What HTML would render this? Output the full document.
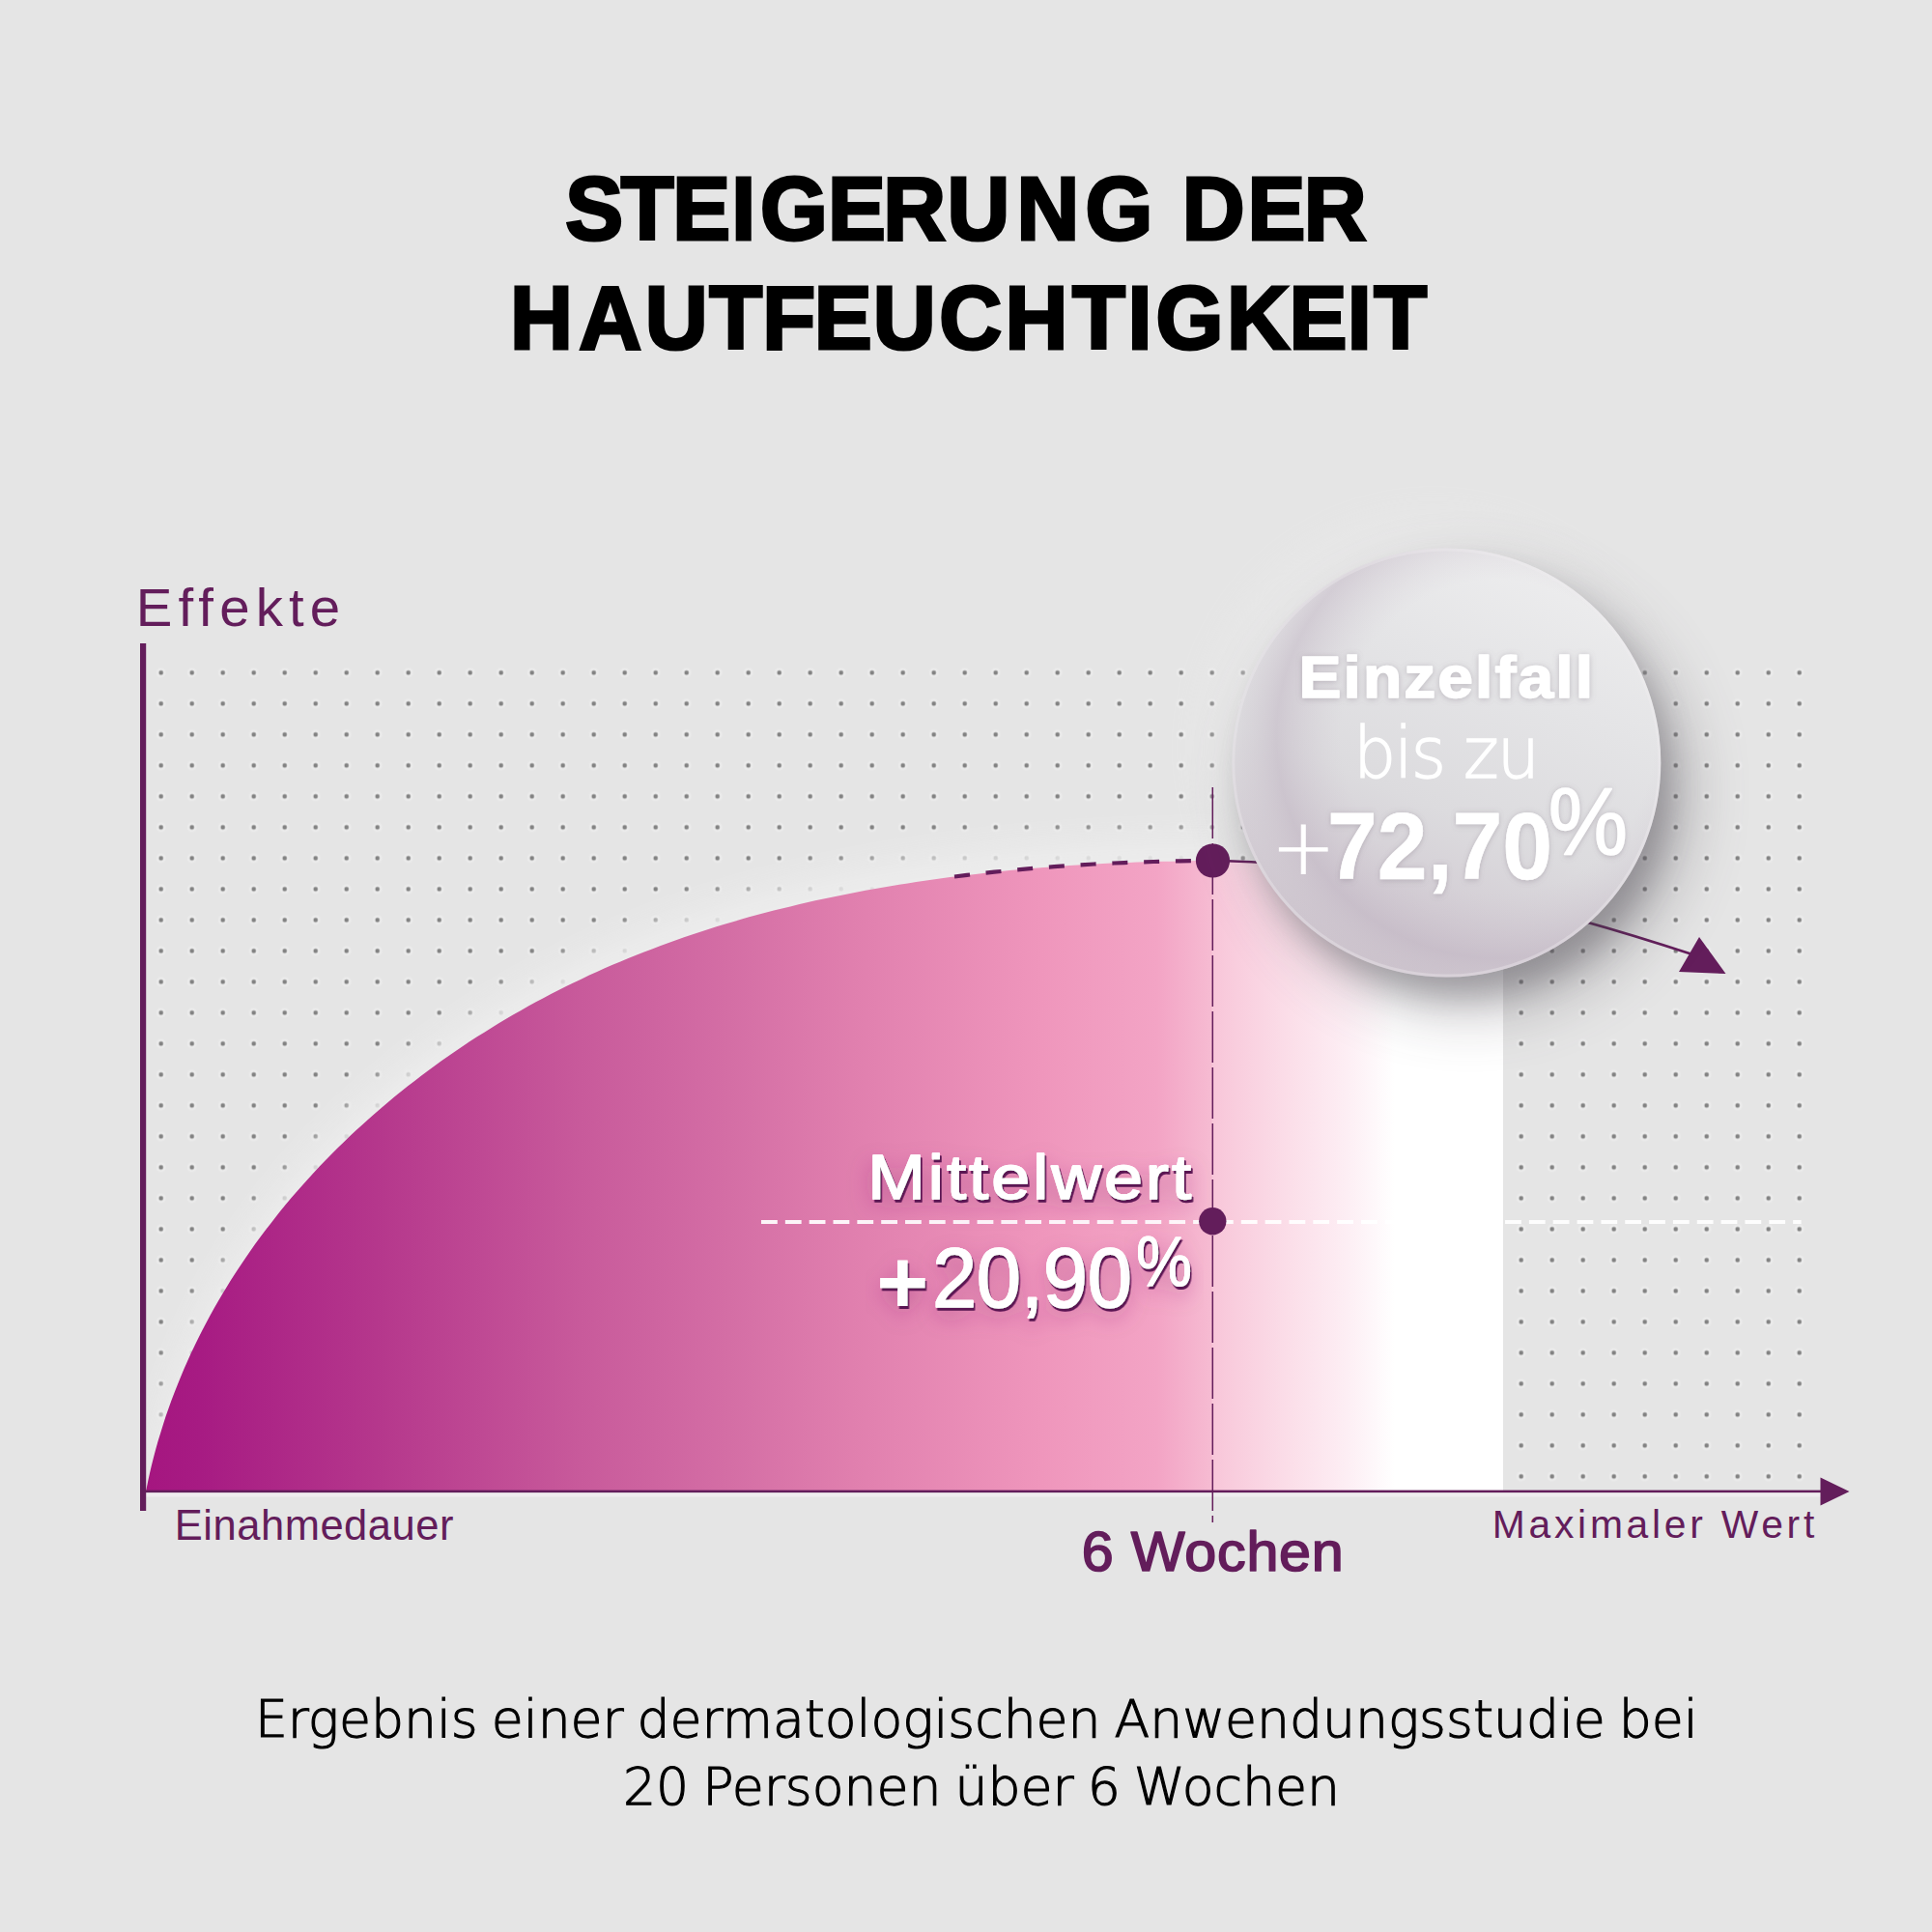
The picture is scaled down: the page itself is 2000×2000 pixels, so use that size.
<!DOCTYPE html>
<html lang="de"><head><meta charset="utf-8"><title>Steigerung der Hautfeuchtigkeit</title>
<style>
html,body{margin:0;padding:0;background:#e5e5e5;width:2000px;height:2000px;overflow:hidden;}
svg{display:block}
text{white-space:pre}
</style></head><body>
<svg width="2000" height="2000" viewBox="0 0 2000 2000">
<defs>
<pattern id="dots" x="150.7" y="680.4" width="32" height="32" patternUnits="userSpaceOnUse">
<circle cx="16" cy="16" r="5" fill="#ebebeb"/>
<rect x="13.85" y="13.85" width="4.3" height="4.3" rx="1.6" fill="#828282"/>
</pattern>
<linearGradient id="fillg" gradientUnits="userSpaceOnUse" x1="151" y1="0" x2="1556" y2="0">
<stop offset="0" stop-color="#a51680"/>
<stop offset="0.04" stop-color="#a71b83"/>
<stop offset="0.17" stop-color="#b5378c"/>
<stop offset="0.32" stop-color="#c85a9b"/>
<stop offset="0.43" stop-color="#d46ea5"/>
<stop offset="0.52" stop-color="#e07fae"/>
<stop offset="0.66" stop-color="#ef96bc"/>
<stop offset="0.745" stop-color="#f3a4c5"/>
<stop offset="0.785" stop-color="#f6bbd2"/>
<stop offset="0.786" stop-color="#f8c6d9"/>
<stop offset="0.84" stop-color="#fbdde8"/>
<stop offset="0.885" stop-color="#fdeef4"/>
<stop offset="0.92" stop-color="#ffffff"/>
<stop offset="1" stop-color="#ffffff"/>
</linearGradient>
<linearGradient id="circg" x1="0.72" y1="0.02" x2="0.32" y2="1">
<stop offset="0" stop-color="#ededee"/>
<stop offset="0.3" stop-color="#e4e4e6"/>
<stop offset="0.6" stop-color="#dcdbde"/>
<stop offset="0.85" stop-color="#d1cad2"/>
<stop offset="1" stop-color="#cbc1cb"/>
</linearGradient>
<radialGradient id="circin" cx="0.62" cy="0.44" r="0.63">
<stop offset="0" stop-color="#d8d4da" stop-opacity="0"/>
<stop offset="0.58" stop-color="#cfc6d0" stop-opacity="0"/>
<stop offset="0.82" stop-color="#c0b4c2" stop-opacity="0.5"/>
<stop offset="0.94" stop-color="#cbc2cc" stop-opacity="0.18"/>
<stop offset="1" stop-color="#d5d0d6" stop-opacity="0"/>
</radialGradient>
<filter id="halo" x="-10%" y="-10%" width="120%" height="120%"><feGaussianBlur stdDeviation="14"/></filter>
<filter id="csh" x="-40%" y="-40%" width="180%" height="180%"><feGaussianBlur stdDeviation="16"/></filter>
<filter id="csh2" x="-40%" y="-40%" width="180%" height="180%"><feGaussianBlur stdDeviation="32"/></filter>
<filter id="clt" x="-40%" y="-40%" width="180%" height="180%"><feGaussianBlur stdDeviation="24"/></filter>
<filter id="csf" x="-10%" y="-30%" width="120%" height="160%"><feDropShadow dx="0" dy="1" stdDeviation="3" flood-color="#7d6f80" flood-opacity="0.38"/></filter>
<filter id="tsh" x="-20%" y="-40%" width="140%" height="200%">
<feDropShadow dx="0" dy="9" stdDeviation="11" flood-color="#8a2070" flood-opacity="0.38" result="a"/>
<feDropShadow in="SourceGraphic" dx="1.6" dy="3" stdDeviation="0.5" flood-color="#5a1752" flood-opacity="1" result="b"/>
<feMerge><feMergeNode in="a"/><feMergeNode in="b"/></feMerge>
</filter>
<clipPath id="plotclip"><rect x="151" y="600" width="1110" height="944"/></clipPath>
<clipPath id="shapeclip"><path d="M151.0,1544.0C151.6,1541.1 153.4,1532.2 154.7,1526.4C156.0,1520.6 157.4,1514.8 158.9,1509.0C160.4,1503.3 162.0,1497.5 163.6,1491.8C165.3,1486.1 167.0,1480.5 168.8,1474.9C170.6,1469.2 172.5,1463.6 174.5,1458.1C176.4,1452.5 178.4,1447.0 180.6,1441.5C182.7,1436.1 184.8,1430.6 187.1,1425.2C189.3,1419.8 191.7,1414.4 194.1,1409.1C196.4,1403.7 198.9,1398.4 201.4,1393.2C204.0,1387.9 206.6,1382.7 209.2,1377.5C211.9,1372.3 214.6,1367.1 217.4,1362.0C220.2,1356.9 223.1,1351.8 226.0,1346.8C228.9,1341.7 231.9,1336.7 235.0,1331.8C238.0,1326.8 241.1,1321.9 244.3,1317.0C247.5,1312.1 250.7,1307.2 254.0,1302.4C257.3,1297.6 260.6,1292.9 264.0,1288.1C267.4,1283.4 270.9,1278.7 274.4,1274.1C277.9,1269.4 281.5,1264.8 285.1,1260.2C288.7,1255.6 292.4,1251.1 296.1,1246.6C299.9,1242.1 303.6,1237.7 307.5,1233.3C311.3,1228.9 315.2,1224.5 319.1,1220.2C323.0,1215.8 327.0,1211.6 331.0,1207.3C335.0,1203.1 339.1,1198.9 343.2,1194.7C347.3,1190.6 351.5,1186.4 355.7,1182.4C359.9,1178.3 364.1,1174.3 368.4,1170.3C372.7,1166.3 377.1,1162.3 381.5,1158.4C385.8,1154.5 390.2,1150.7 394.7,1146.9C399.2,1143.0 403.7,1139.3 408.2,1135.5C412.8,1131.8 417.3,1128.1 421.9,1124.5C426.6,1120.9 431.2,1117.3 435.9,1113.7C440.6,1110.2 445.3,1106.7 450.1,1103.2C454.8,1099.7 459.6,1096.3 464.5,1093.0C469.3,1089.6 474.2,1086.3 479.1,1083.0C484.0,1079.7 488.9,1076.5 493.8,1073.3C498.8,1070.1 503.8,1067.0 508.8,1063.9C513.8,1060.8 518.9,1057.7 523.9,1054.7C529.0,1051.7 534.1,1048.8 539.3,1045.9C544.4,1043.0 549.5,1040.1 554.7,1037.3C559.9,1034.5 565.1,1031.8 570.3,1029.0C575.6,1026.3 580.8,1023.7 586.1,1021.1C591.4,1018.4 596.7,1015.9 602.0,1013.4C607.3,1010.8 612.6,1008.4 618.0,1006.0C623.4,1003.5 628.7,1001.2 634.1,998.8C639.5,996.5 645.0,994.3 650.4,992.0C655.8,989.8 661.3,987.6 666.8,985.5C672.2,983.4 677.7,981.3 683.2,979.2C688.7,977.2 694.2,975.2 699.8,973.2C705.3,971.3 710.9,969.4 716.4,967.5C722.0,965.6 727.6,963.8 733.2,962.0C738.8,960.3 744.4,958.5 750.0,956.8C755.7,955.1 761.3,953.5 766.9,951.8C772.6,950.2 778.3,948.7 783.9,947.1C789.6,945.6 795.3,944.1 801.0,942.6C806.7,941.2 812.4,939.7 818.1,938.4C823.9,937.0 829.6,935.6 835.3,934.3C841.1,933.0 846.8,931.7 852.6,930.5C858.4,929.2 864.1,928.0 869.9,926.9C875.7,925.7 881.5,924.6 887.3,923.5C893.1,922.3 898.9,921.3 904.7,920.2C910.5,919.2 916.3,918.2 922.2,917.2C928.0,916.2 933.8,915.3 939.6,914.4C945.5,913.5 951.3,912.6 957.2,911.7C963.0,910.9 968.9,910.1 974.7,909.3C980.6,908.5 986.4,907.7 992.3,907.0C998.1,906.2 1004.0,905.5 1009.9,904.9C1015.7,904.2 1021.6,903.5 1027.5,902.9C1033.3,902.3 1039.2,901.7 1045.1,901.1C1051.0,900.6 1056.8,900.0 1062.7,899.5C1068.6,899.0 1074.4,898.5 1080.3,898.0C1086.2,897.6 1092.1,897.1 1097.9,896.7C1103.8,896.3 1109.7,895.9 1115.5,895.5C1121.4,895.2 1127.3,894.8 1133.1,894.5C1139.0,894.2 1144.8,893.9 1150.7,893.6C1156.5,893.3 1162.4,893.1 1168.2,892.9C1174.1,892.6 1179.9,892.4 1185.8,892.2C1191.6,892.1 1197.4,891.9 1203.3,891.8C1209.1,891.6 1214.9,891.5 1220.7,891.4C1226.5,891.3 1232.3,891.2 1238.1,891.1C1243.9,891.1 1252.6,891.0 1255.5,891.0C1350,890 1480,905 1556,926L1556,1544.5L151,1544.5Z"/></clipPath>
</defs>
<rect width="2000" height="2000" fill="#e5e5e5"/>
<rect x="150" y="680" width="1730" height="864" fill="url(#dots)"/>
<g clip-path="url(#plotclip)"><path transform="translate(0,-27)" d="M151.0,1544.0C151.6,1541.1 153.4,1532.2 154.7,1526.4C156.0,1520.6 157.4,1514.8 158.9,1509.0C160.4,1503.3 162.0,1497.5 163.6,1491.8C165.3,1486.1 167.0,1480.5 168.8,1474.9C170.6,1469.2 172.5,1463.6 174.5,1458.1C176.4,1452.5 178.4,1447.0 180.6,1441.5C182.7,1436.1 184.8,1430.6 187.1,1425.2C189.3,1419.8 191.7,1414.4 194.1,1409.1C196.4,1403.7 198.9,1398.4 201.4,1393.2C204.0,1387.9 206.6,1382.7 209.2,1377.5C211.9,1372.3 214.6,1367.1 217.4,1362.0C220.2,1356.9 223.1,1351.8 226.0,1346.8C228.9,1341.7 231.9,1336.7 235.0,1331.8C238.0,1326.8 241.1,1321.9 244.3,1317.0C247.5,1312.1 250.7,1307.2 254.0,1302.4C257.3,1297.6 260.6,1292.9 264.0,1288.1C267.4,1283.4 270.9,1278.7 274.4,1274.1C277.9,1269.4 281.5,1264.8 285.1,1260.2C288.7,1255.6 292.4,1251.1 296.1,1246.6C299.9,1242.1 303.6,1237.7 307.5,1233.3C311.3,1228.9 315.2,1224.5 319.1,1220.2C323.0,1215.8 327.0,1211.6 331.0,1207.3C335.0,1203.1 339.1,1198.9 343.2,1194.7C347.3,1190.6 351.5,1186.4 355.7,1182.4C359.9,1178.3 364.1,1174.3 368.4,1170.3C372.7,1166.3 377.1,1162.3 381.5,1158.4C385.8,1154.5 390.2,1150.7 394.7,1146.9C399.2,1143.0 403.7,1139.3 408.2,1135.5C412.8,1131.8 417.3,1128.1 421.9,1124.5C426.6,1120.9 431.2,1117.3 435.9,1113.7C440.6,1110.2 445.3,1106.7 450.1,1103.2C454.8,1099.7 459.6,1096.3 464.5,1093.0C469.3,1089.6 474.2,1086.3 479.1,1083.0C484.0,1079.7 488.9,1076.5 493.8,1073.3C498.8,1070.1 503.8,1067.0 508.8,1063.9C513.8,1060.8 518.9,1057.7 523.9,1054.7C529.0,1051.7 534.1,1048.8 539.3,1045.9C544.4,1043.0 549.5,1040.1 554.7,1037.3C559.9,1034.5 565.1,1031.8 570.3,1029.0C575.6,1026.3 580.8,1023.7 586.1,1021.1C591.4,1018.4 596.7,1015.9 602.0,1013.4C607.3,1010.8 612.6,1008.4 618.0,1006.0C623.4,1003.5 628.7,1001.2 634.1,998.8C639.5,996.5 645.0,994.3 650.4,992.0C655.8,989.8 661.3,987.6 666.8,985.5C672.2,983.4 677.7,981.3 683.2,979.2C688.7,977.2 694.2,975.2 699.8,973.2C705.3,971.3 710.9,969.4 716.4,967.5C722.0,965.6 727.6,963.8 733.2,962.0C738.8,960.3 744.4,958.5 750.0,956.8C755.7,955.1 761.3,953.5 766.9,951.8C772.6,950.2 778.3,948.7 783.9,947.1C789.6,945.6 795.3,944.1 801.0,942.6C806.7,941.2 812.4,939.7 818.1,938.4C823.9,937.0 829.6,935.6 835.3,934.3C841.1,933.0 846.8,931.7 852.6,930.5C858.4,929.2 864.1,928.0 869.9,926.9C875.7,925.7 881.5,924.6 887.3,923.5C893.1,922.3 898.9,921.3 904.7,920.2C910.5,919.2 916.3,918.2 922.2,917.2C928.0,916.2 933.8,915.3 939.6,914.4C945.5,913.5 951.3,912.6 957.2,911.7C963.0,910.9 968.9,910.1 974.7,909.3C980.6,908.5 986.4,907.7 992.3,907.0C998.1,906.2 1004.0,905.5 1009.9,904.9C1015.7,904.2 1021.6,903.5 1027.5,902.9C1033.3,902.3 1039.2,901.7 1045.1,901.1C1051.0,900.6 1056.8,900.0 1062.7,899.5C1068.6,899.0 1074.4,898.5 1080.3,898.0C1086.2,897.6 1092.1,897.1 1097.9,896.7C1103.8,896.3 1109.7,895.9 1115.5,895.5C1121.4,895.2 1127.3,894.8 1133.1,894.5C1139.0,894.2 1144.8,893.9 1150.7,893.6C1156.5,893.3 1162.4,893.1 1168.2,892.9C1174.1,892.6 1179.9,892.4 1185.8,892.2C1191.6,892.1 1197.4,891.9 1203.3,891.8C1209.1,891.6 1214.9,891.5 1220.7,891.4C1226.5,891.3 1232.3,891.2 1238.1,891.1C1243.9,891.1 1252.6,891.0 1255.5,891.0L1400,891L1400,1700L151,1700Z" fill="#ececec" opacity="0.9" filter="url(#halo)"/></g>
<path d="M151.0,1544.0C151.6,1541.1 153.4,1532.2 154.7,1526.4C156.0,1520.6 157.4,1514.8 158.9,1509.0C160.4,1503.3 162.0,1497.5 163.6,1491.8C165.3,1486.1 167.0,1480.5 168.8,1474.9C170.6,1469.2 172.5,1463.6 174.5,1458.1C176.4,1452.5 178.4,1447.0 180.6,1441.5C182.7,1436.1 184.8,1430.6 187.1,1425.2C189.3,1419.8 191.7,1414.4 194.1,1409.1C196.4,1403.7 198.9,1398.4 201.4,1393.2C204.0,1387.9 206.6,1382.7 209.2,1377.5C211.9,1372.3 214.6,1367.1 217.4,1362.0C220.2,1356.9 223.1,1351.8 226.0,1346.8C228.9,1341.7 231.9,1336.7 235.0,1331.8C238.0,1326.8 241.1,1321.9 244.3,1317.0C247.5,1312.1 250.7,1307.2 254.0,1302.4C257.3,1297.6 260.6,1292.9 264.0,1288.1C267.4,1283.4 270.9,1278.7 274.4,1274.1C277.9,1269.4 281.5,1264.8 285.1,1260.2C288.7,1255.6 292.4,1251.1 296.1,1246.6C299.9,1242.1 303.6,1237.7 307.5,1233.3C311.3,1228.9 315.2,1224.5 319.1,1220.2C323.0,1215.8 327.0,1211.6 331.0,1207.3C335.0,1203.1 339.1,1198.9 343.2,1194.7C347.3,1190.6 351.5,1186.4 355.7,1182.4C359.9,1178.3 364.1,1174.3 368.4,1170.3C372.7,1166.3 377.1,1162.3 381.5,1158.4C385.8,1154.5 390.2,1150.7 394.7,1146.9C399.2,1143.0 403.7,1139.3 408.2,1135.5C412.8,1131.8 417.3,1128.1 421.9,1124.5C426.6,1120.9 431.2,1117.3 435.9,1113.7C440.6,1110.2 445.3,1106.7 450.1,1103.2C454.8,1099.7 459.6,1096.3 464.5,1093.0C469.3,1089.6 474.2,1086.3 479.1,1083.0C484.0,1079.7 488.9,1076.5 493.8,1073.3C498.8,1070.1 503.8,1067.0 508.8,1063.9C513.8,1060.8 518.9,1057.7 523.9,1054.7C529.0,1051.7 534.1,1048.8 539.3,1045.9C544.4,1043.0 549.5,1040.1 554.7,1037.3C559.9,1034.5 565.1,1031.8 570.3,1029.0C575.6,1026.3 580.8,1023.7 586.1,1021.1C591.4,1018.4 596.7,1015.9 602.0,1013.4C607.3,1010.8 612.6,1008.4 618.0,1006.0C623.4,1003.5 628.7,1001.2 634.1,998.8C639.5,996.5 645.0,994.3 650.4,992.0C655.8,989.8 661.3,987.6 666.8,985.5C672.2,983.4 677.7,981.3 683.2,979.2C688.7,977.2 694.2,975.2 699.8,973.2C705.3,971.3 710.9,969.4 716.4,967.5C722.0,965.6 727.6,963.8 733.2,962.0C738.8,960.3 744.4,958.5 750.0,956.8C755.7,955.1 761.3,953.5 766.9,951.8C772.6,950.2 778.3,948.7 783.9,947.1C789.6,945.6 795.3,944.1 801.0,942.6C806.7,941.2 812.4,939.7 818.1,938.4C823.9,937.0 829.6,935.6 835.3,934.3C841.1,933.0 846.8,931.7 852.6,930.5C858.4,929.2 864.1,928.0 869.9,926.9C875.7,925.7 881.5,924.6 887.3,923.5C893.1,922.3 898.9,921.3 904.7,920.2C910.5,919.2 916.3,918.2 922.2,917.2C928.0,916.2 933.8,915.3 939.6,914.4C945.5,913.5 951.3,912.6 957.2,911.7C963.0,910.9 968.9,910.1 974.7,909.3C980.6,908.5 986.4,907.7 992.3,907.0C998.1,906.2 1004.0,905.5 1009.9,904.9C1015.7,904.2 1021.6,903.5 1027.5,902.9C1033.3,902.3 1039.2,901.7 1045.1,901.1C1051.0,900.6 1056.8,900.0 1062.7,899.5C1068.6,899.0 1074.4,898.5 1080.3,898.0C1086.2,897.6 1092.1,897.1 1097.9,896.7C1103.8,896.3 1109.7,895.9 1115.5,895.5C1121.4,895.2 1127.3,894.8 1133.1,894.5C1139.0,894.2 1144.8,893.9 1150.7,893.6C1156.5,893.3 1162.4,893.1 1168.2,892.9C1174.1,892.6 1179.9,892.4 1185.8,892.2C1191.6,892.1 1197.4,891.9 1203.3,891.8C1209.1,891.6 1214.9,891.5 1220.7,891.4C1226.5,891.3 1232.3,891.2 1238.1,891.1C1243.9,891.1 1252.6,891.0 1255.5,891.0C1350,890 1480,905 1556,926L1556,1544.5L151,1544.5Z" fill="url(#fillg)"/>
<circle cx="1483.3" cy="773.5" r="228" fill="#f2f2f2" opacity="0.4" filter="url(#clt)"/>
<!-- x axis -->
<rect x="151" y="1545.5" width="1735" height="4" fill="#f1eff1" opacity="0.8"/>
<rect x="148" y="1542.6" width="1740" height="2.5" fill="#631d5b"/>
<polygon points="1884.5,1529.5 1914.5,1544 1884.5,1558.5" fill="#631d5b"/>
<!-- y axis -->
<rect x="145" y="666" width="6.2" height="898" fill="#631d5b"/>
<!-- dashed top -->
<path d="M988.0,907.5C991.4,907.1 1001.7,905.8 1008.6,905.0C1015.5,904.2 1022.4,903.4 1029.3,902.7C1036.1,902.0 1043.0,901.3 1049.9,900.7C1056.8,900.0 1063.7,899.4 1070.6,898.8C1077.5,898.2 1084.3,897.7 1091.2,897.2C1098.1,896.7 1105.0,896.2 1111.9,895.8C1118.7,895.3 1125.6,894.9 1132.5,894.5C1139.4,894.2 1146.2,893.8 1153.1,893.5C1160.0,893.2 1166.8,892.9 1173.7,892.7C1180.5,892.4 1187.4,892.2 1194.2,892.0C1201.0,891.8 1207.9,891.6 1214.7,891.5C1221.5,891.4 1228.3,891.2 1235.1,891.2C1241.9,891.1 1252.1,891.0 1255.5,891.0" fill="none" stroke="#631d5b" stroke-width="4.2" stroke-dasharray="16 16.8"/>
<!-- extension + arrow -->
<path d="M1255.5,891C1400,893 1560,925 1752,988" fill="none" stroke="#631d5b" stroke-width="2.6"/>
<polygon points="1759,970 1738,1006 1786.5,1008" fill="#631d5b"/>
<!-- vertical dashed -->
<line x1="1255.3" y1="815" x2="1255.3" y2="1576" stroke="#631d5b" stroke-width="1.5" stroke-dasharray="53 5"/>
<!-- white dashed -->
<line x1="788" y1="1264.9" x2="1864.6" y2="1264.9" stroke="#fff" stroke-opacity="0.92" stroke-width="4" stroke-dasharray="16.8 8.04"/>
<circle cx="1255.5" cy="891" r="17.6" fill="#631d5b"/>
<circle cx="1255.3" cy="1264.3" r="14.2" fill="#631d5b"/>
<!-- circle -->
<circle cx="1521.3" cy="819.5" r="228" fill="#453f48" opacity="0.30" filter="url(#csh2)"/>
<circle cx="1511.3" cy="813.5" r="218" fill="#453f48" opacity="0.32" filter="url(#csh)"/>
<circle cx="1497.3" cy="789.5" r="222" fill="url(#circg)"/>
<circle cx="1497.3" cy="789.5" r="222" fill="url(#circin)"/>
<circle cx="1497.3" cy="789.5" r="220.5" fill="none" stroke="#f0eff0" stroke-opacity="0.35" stroke-width="3"/>
<text transform="scale(0.9750,1)" x="600.3 659.2 714.2 776.8 807.2 879.0 937.6 1005.7 1079.6 1152.4 1223.9 1255.2 1324.5 1384.3" y="248.00" font-family='"Liberation Sans", sans-serif' font-weight="700" font-size="92" fill="#000" stroke="#000" stroke-width="3.2" stroke-linejoin="miter">STEIGERUNG DER</text>
<text transform="scale(0.9750,1)" x="541.6 614.7 684.8 753.0 809.5 864.4 926.9 997.3 1067.1 1138.5 1197.4 1227.1 1302.5 1368.6 1430.4 1458.7" y="361.40" font-family='"Liberation Sans", sans-serif' font-weight="700" font-size="92.2" fill="#000" stroke="#000" stroke-width="3.2" stroke-linejoin="miter">HAUTFEUCHTIGKEIT</text>
<text transform="translate(140.80,648.00) scale(1.0000,1)" font-family='"Liberation Sans", sans-serif' font-weight="400" font-size="56.4" fill="#631d5b" letter-spacing="6.14" >Effekte</text>
<text transform="translate(180.80,1593.70) scale(1.0000,1)" font-family='"Liberation Sans", sans-serif' font-weight="400" font-size="43.5" fill="#631d5b" letter-spacing="0.52" >Einahmedauer</text>
<text transform="translate(1544.80,1591.70) scale(1.0000,1)" font-family='"Liberation Sans", sans-serif' font-weight="400" font-size="40.8" fill="#631d5b" letter-spacing="3.74" >Maximaler Wert</text>
<text transform="translate(1119.66,1625.80) scale(1.0215,1)" font-family='"Liberation Sans", sans-serif' font-weight="400" font-size="58" fill="#631d5b" letter-spacing="0.77" stroke="#631d5b" stroke-width="1.7" stroke-linejoin="round">6 Wochen</text>
<text transform="translate(1344.41,721.80) scale(1.0726,1)" font-family='"Liberation Sans", sans-serif' font-weight="700" font-size="61.5" fill="#fff" letter-spacing="1.94" stroke="#fff" stroke-width="1.6" stroke-linejoin="round" filter="url(#csf)">Einzelfall</text>
<text transform="translate(1401.11,804.60) scale(0.9488,1)" font-family='"DejaVu Sans", sans-serif' font-weight="200" font-size="73.5" fill="#fff" letter-spacing="-2.14" stroke="#fff" stroke-width="1.4">bis zu</text>
<g><text transform="translate(1316.06,905.00) scale(0.9922,1)" font-family='"DejaVu Sans", sans-serif' font-weight="200" font-size="80" fill="#fff" stroke="#fff" stroke-width="1">+</text><text transform="translate(1374.02,909.60) scale(0.9448,1)" font-family='"Liberation Sans", sans-serif' font-weight="700" font-size="98.6" fill="#fff" stroke="#fff" stroke-width="0.6" stroke-linejoin="round" filter="url(#csf)">72,70</text><text transform="translate(1602.80,884.20) scale(0.9341,1)" font-family='"Liberation Sans", sans-serif' font-weight="400" font-size="99" fill="#fff" stroke="#fff" stroke-width="1.5" stroke-linejoin="round" filter="url(#csf)">%</text></g>
<text transform="translate(898.44,1240.60) scale(1.1118,1)" font-family='"Liberation Sans", sans-serif' font-weight="400" font-size="64" fill="#fff" letter-spacing="3.01" stroke="#fff" stroke-width="1.7" stroke-linejoin="round" filter="url(#tsh)">Mittelwert</text>
<g><text transform="translate(907.60,1359.00) scale(1.0000,1)" font-family='"Liberation Sans", sans-serif' font-weight="700" font-size="92" fill="#fff" filter="url(#tsh)">+</text><text transform="translate(965.19,1353.20) scale(0.9535,1)" font-family='"Liberation Sans", sans-serif' font-weight="400" font-size="86.6" fill="#fff" stroke="#fff" stroke-width="1.6" stroke-linejoin="round" filter="url(#tsh)">20,90</text><text transform="translate(1176.20,1331.00) scale(0.9000,1)" font-family='"Liberation Sans", sans-serif' font-weight="400" font-size="72" fill="#fff" stroke="#fff" stroke-width="1.2" stroke-linejoin="round" filter="url(#tsh)">%</text></g>
<text transform="translate(263.90,1798.30) scale(1.0173,1)" font-family='"DejaVu Sans", sans-serif' font-weight="200" font-size="52.7" fill="#000" word-spacing="-3" stroke="#000" stroke-width="1.15">Ergebnis einer dermatologischen Anwendungsstudie bei</text>
<text transform="translate(644.95,1867.50) scale(1.0183,1)" font-family='"DejaVu Sans", sans-serif' font-weight="200" font-size="52.7" fill="#000" word-spacing="-3" stroke="#000" stroke-width="1.15">20 Personen über 6 Wochen</text>
</svg>
</body></html>
